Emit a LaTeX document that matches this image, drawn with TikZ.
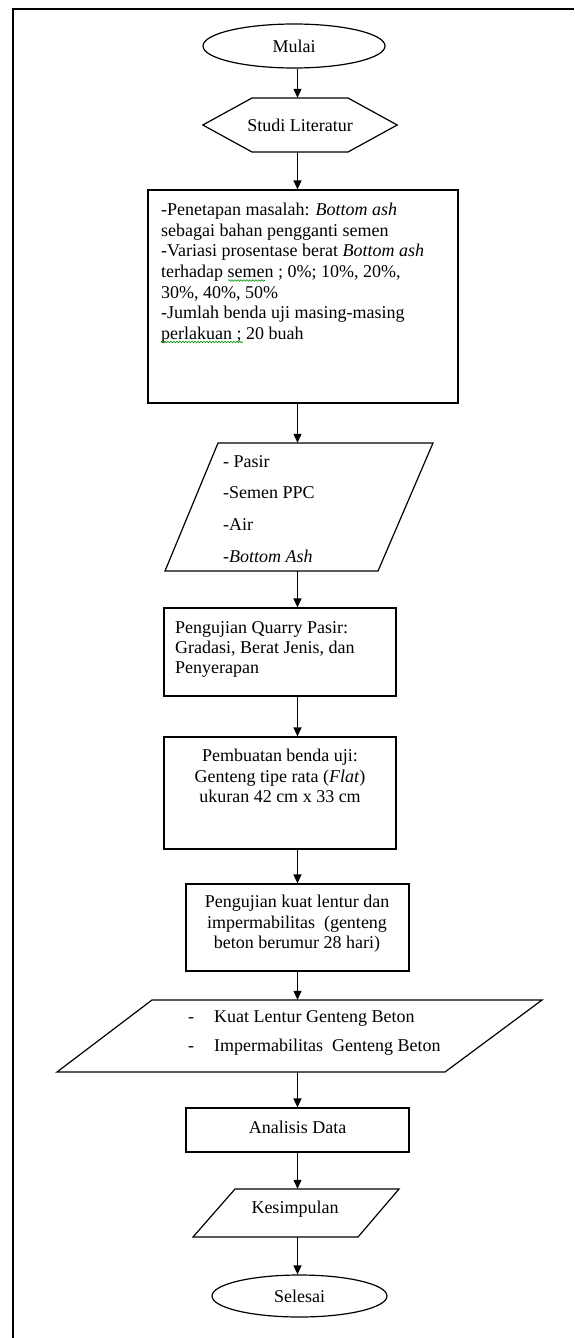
\documentclass[tikz,border=0pt]{standalone}
\usepackage{fontspec}
\setmainfont{Liberation Serif}
\usetikzlibrary{arrows.meta,shapes.geometric,decorations.pathmorphing}
\begin{document}
\begin{tikzpicture}[x=1pt,y=-1pt,
  every node/.style={font=\fontsize{18}{20.7}\selectfont, inner sep=0pt},
  shp/.style={draw=black, line width=1.2pt},
  boxnode/.style={shp, rectangle},
  ghost/.style={rectangle, draw=none},
  arr/.style={line width=1.2pt, -{Triangle[length=9pt,width=8pt]}},
  txt/.style={align=left},
  ctxt/.style={align=center},
  squig/.style={draw=green!55!black, line width=0.6pt, decorate,
    decoration={snake, segment length=3pt, amplitude=0.8pt}}
]
\useasboundingbox (0,0) rectangle (574,1338);
\fill[white] (0,0) rectangle (574,1338);
% outer frame (cropped at right and bottom)
\draw[line width=2pt] (574,9) -- (13,9) -- (13,1338);
\coordinate (axis) at (297.5,0);

% Mulai
\node[shp, ellipse, minimum width=182pt, minimum height=44pt] (mulai) at (294,46) {Mulai};
% Studi Literatur (hexagon)
\node[ghost, minimum width=194pt, minimum height=54pt] (studi) at (300,125) {Studi Literatur};
\draw[shp] (studi.west) -- (252,98) -- (348,98) -- (studi.east) -- (348,152) -- (252,152) -- cycle;

% Box 1
\node[boxnode, minimum width=310pt, minimum height=213pt] (b1) at (303,296.5) {};
\node[txt, anchor=north west] (b1t) at (161,202.7) {-Penetapan masalah: \textit{Bottom ash}\\
sebagai bahan pengganti semen\\
-Variasi prosentase berat \textit{Bottom ash}\\
terhadap semen ; 0\%; 10\%, 20\%,\\
30\%, 40\%, 50\%\\
-Jumlah benda uji masing-masing\\
perlakuan ; 20 buah};
\draw[squig] (228,280.5) -- (265,280.5);
\draw[squig] (161,342) -- (243,342);

% Input parallelogram
\node[ghost, minimum width=213pt, minimum height=128pt] (in1) at (299,507) {};
\draw[shp] (218,443) -- (433,443) -- (378,571) -- (165,571) -- cycle;
\node[txt, anchor=north west, font=\fontsize{18}{31.7}\selectfont] (in1t) at (223,455) {- Pasir\\
-Semen PPC\\
-Air\\
\textit{-Bottom Ash}};

% Box 2
\node[boxnode, minimum width=232pt, minimum height=88pt] (b2) at (280,652) {};
\node[txt, anchor=north west, font=\fontsize{18}{20}\selectfont] (b2t) at (175,621) {Pengujian Quarry Pasir:\\
Gradasi, Berat Jenis, dan\\
Penyerapan};

% Box 3
\node[boxnode, minimum width=232pt, minimum height=112pt] (b3) at (280,793) {};
\node[ctxt, anchor=north] (b3t) at (280,748.7) {Pembuatan benda uji:\\
Genteng tipe rata (\textit{Flat})\\
ukuran 42 cm x 33 cm};

% Box 4
\node[boxnode, minimum width=223pt, minimum height=87pt] (b4) at (297.5,927.5) {};
\node[ctxt, anchor=north] (b4t) at (297,894.7) {Pengujian kuat lentur dan\\
impermabilitas\ \ (genteng\\
beton berumur 28 hari)};

% Output parallelogram
\node[ghost, minimum width=390pt, minimum height=72pt] (out) at (299.5,1036) {};
\draw[shp] (152,1000) -- (542,1000) -- (445,1072) -- (57,1072) -- cycle;
\node[txt, anchor=north west, font=\fontsize{18}{29}\selectfont] (outt) at (188,1010.7) {\makebox[26pt][l]{-}Kuat Lentur Genteng Beton\\
\makebox[26pt][l]{-}Impermabilitas\ \ Genteng Beton};

% Box 5
\node[boxnode, minimum width=223pt, minimum height=44pt] (b5) at (297.5,1130) {};
\node[anchor=base] (b5t) at (297.5,1133) {Analisis Data};

% Kesimpulan
\node[ghost, minimum width=164pt, minimum height=48pt] (kes) at (296,1213) {};
\draw[shp] (235,1189) -- (399,1189) -- (358,1237) -- (193,1237) -- cycle;
\node[anchor=base] (kest) at (295,1213) {Kesimpulan};

% Selesai
\node[shp, ellipse, minimum width=175pt, minimum height=42pt] (selesai) at (299.5,1296) {Selesai};

% connectors
\draw[arr] (mulai.south -| axis) -- (studi.north -| axis);
\draw[arr] (studi.south -| axis) -- (b1.north -| axis);
\draw[arr] (b1.south -| axis) -- (in1.north -| axis);
\draw[arr] (in1.south -| axis) -- (b2.north -| axis);
\draw[arr] (b2.south -| axis) -- (b3.north -| axis);
\draw[arr] (b3.south -| axis) -- (b4.north -| axis);
\draw[arr] (b4.south -| axis) -- (out.north -| axis);
\draw[arr] (out.south -| axis) -- (b5.north -| axis);
\draw[arr] (b5.south -| axis) -- (kes.north -| axis);
\draw[arr] (kes.south -| axis) -- (selesai.north -| axis);
\end{tikzpicture}
\end{document}
